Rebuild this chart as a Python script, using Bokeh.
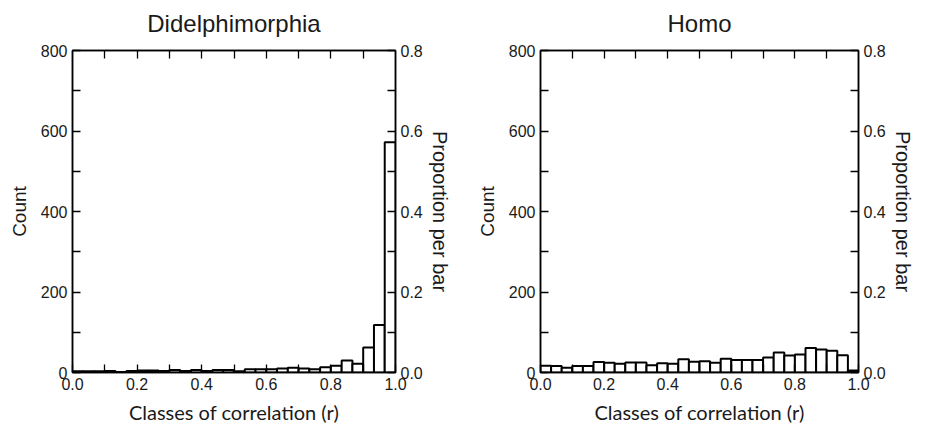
import numpy as np
from bokeh.plotting import figure
from bokeh.models import LinearAxis, Range1d, FixedTicker, PrintfTickFormatter
from bokeh.layouts import row
from bokeh.embed import file_html
from bokeh.resources import INLINE

# 30 classes of correlation (r) from 0 to 1
bin_edges = np.linspace(0.0, 1.0, 31)
didel_counts = [3, 3, 3, 4, 1, 4, 5, 5, 4, 6, 4, 6, 4, 6, 6, 3, 8, 8, 8, 10,
                12, 10, 8, 13, 17, 30, 22, 62, 118, 572]
homo_counts = [17, 16, 12, 16, 16, 26, 24, 22, 25, 25, 18, 23, 22, 33, 27, 28, 24, 34, 31, 31,
               31, 37, 50, 42, 45, 61, 57, 54, 43, 5]
titles = ["Didelphimorphia", "Homo"]
x_ticks = [0.0, 0.2, 0.4, 0.6, 0.8, 1.0]
x_minor = [0.1, 0.3, 0.5, 0.7, 0.9]
top_ticks = [0.1, 0.2, 0.3, 0.4, 0.5, 0.6, 0.7, 0.8, 0.9]
count_ticks = [0, 200, 400, 600, 800]
count_minor = [100, 300, 500, 700]
prop_ticks = [0.0, 0.2, 0.4, 0.6, 0.8]
prop_minor = [0.1, 0.3, 0.5, 0.7]

SANS = "Liberation Sans"
TXT = "#1a1a1a"
TICK_SIZE = "16px"


def style_axis(ax, ticks, minor, fmt=None):
    ax.ticker = FixedTicker(ticks=ticks, minor_ticks=minor)
    if fmt:
        ax.formatter = PrintfTickFormatter(format=fmt)
    ax.major_tick_in = 8
    ax.major_tick_out = 0
    ax.minor_tick_in = 8
    ax.minor_tick_out = 0
    ax.major_tick_line_color = "black"
    ax.minor_tick_line_color = "black"
    ax.major_tick_line_width = 1.3
    ax.minor_tick_line_width = 1.3
    ax.axis_line_color = "black"
    ax.axis_line_width = 1.5
    ax.major_label_text_font = SANS
    ax.major_label_text_font_size = TICK_SIZE
    ax.major_label_text_color = TXT
    ax.axis_label_text_font_style = "normal"
    ax.axis_label_text_color = TXT


def make(title, counts, width, left, right):
    p = figure(width=width, height=427, x_range=Range1d(0, 1), y_range=Range1d(0, 800),
               output_backend="svg", toolbar_location=None,
               min_border_left=left, min_border_right=right,
               min_border_top=50, min_border_bottom=55)
    p.grid.visible = False
    p.outline_line_color = "black"
    p.outline_line_width = 1.5
    p.background_fill_color = "white"
    p.border_fill_color = "white"

    p.quad(left=bin_edges[:-1], right=bin_edges[1:], bottom=0, top=counts,
           fill_color="white", line_color="black", line_width=2)

    xa = p.xaxis[0]
    style_axis(xa, x_ticks, x_minor, "%.1f")
    xa.major_label_standoff = 5
    xa.axis_label = "Classes of correlation (r)"
    xa.axis_label_text_font = "Lato"
    xa.axis_label_text_font_size = "20px"
    xa.axis_label_standoff = 7

    ya = p.yaxis[0]
    style_axis(ya, count_ticks, count_minor)
    ya.major_label_standoff = 5
    ya.axis_label = "Count"
    ya.axis_label_text_font = SANS
    ya.axis_label_text_font_size = "19px"
    ya.axis_label_standoff = 8

    p.extra_y_ranges = {"prop": Range1d(0, 0.8)}
    ra = LinearAxis(y_range_name="prop")
    style_axis(ra, prop_ticks, prop_minor, "%.1f")
    ra.major_label_standoff = 5
    ra.axis_label = "Proportion per bar"
    ra.axis_label_text_font = SANS
    ra.axis_label_text_font_size = "20px"
    ra.axis_label_standoff = 3
    p.add_layout(ra, "right")

    # top axis: inward ticks only, carries the panel title as its label
    ta = LinearAxis()
    style_axis(ta, [], top_ticks)
    ta.major_label_standoff = 0
    ta.axis_label = title
    ta.axis_label_text_font = SANS
    ta.axis_label_text_font_size = "24px"
    ta.axis_label_standoff = 14
    p.add_layout(ta, "above")
    return p


p1 = make(titles[0], didel_counts, 473, 72, 78)
p2 = make(titles[1], homo_counts, 452, 64, 67)
layout = row(p1, p2)

open("out.html", "w").write(file_html(layout, INLINE))
